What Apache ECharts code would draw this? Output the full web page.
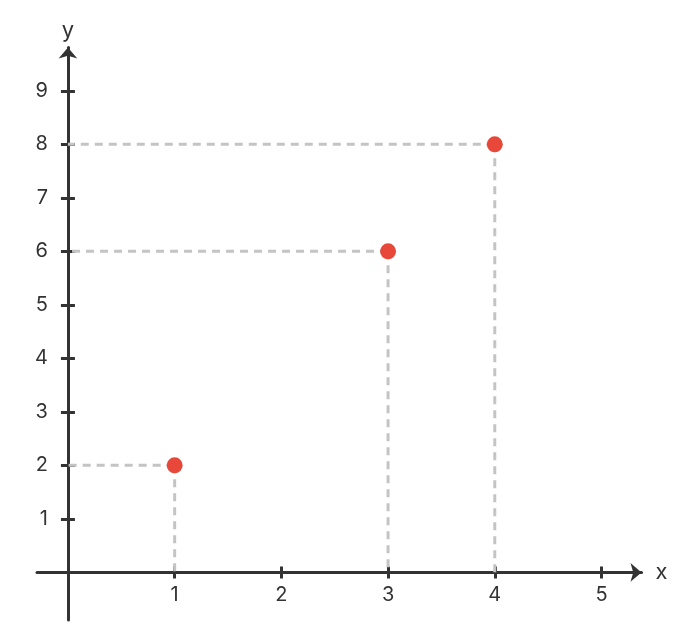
<!DOCTYPE html>
<html><head><meta charset="utf-8">
<script src="https://cdn.jsdelivr.net/npm/echarts@6/dist/echarts.min.js"></script>
<style>html,body{margin:0;padding:0;background:#fff}#c{width:690px;height:624px}</style>
</head><body><div id="c"></div>
<script>
const xTicks = [1, 2, 3, 4, 5];
const yTicks = [1, 2, 3, 4, 5, 6, 7, 8, 9];
const pointsX = [1, 3, 4];
const pointsY = [2, 6, 8];

const axisColor = '#333333';
const font = 'Inter, "Noto Sans", sans-serif';
const W = 690, H = 624;
const grid = { left: 37, right: 48.5, top: 47.5, bottom: 4, outerBoundsMode: 'none', containLabel: false };

const guideStyle = { color: '#c4c4c4', width: 3, type: [8, 6] };
const guideSeries = [];
pointsX.forEach((x, i) => {
  const y = pointsY[i];
  guideSeries.push({ type: 'line', data: [[x, y], [0, y]], symbol: 'none', lineStyle: guideStyle, silent: true, z: 1 });
  guideSeries.push({ type: 'line', data: [[x, y], [x, 0]], symbol: 'none', lineStyle: guideStyle, silent: true, z: 1 });
});

function buildOption(xOff, yOff) {
  const tickStyle = { color: axisColor, width: 3 };
  return {
    animation: false,
    grid: grid,
    xAxis: [{
      type: 'value', min: -0.29, max: 5.375, position: 'bottom', offset: xOff,
      axisLine: { onZero: false, lineStyle: { color: axisColor, width: 3 }, symbol: ['none', 'arrow'], symbolSize: [14, 11] },
      axisTick: { show: true, customValues: xTicks, length: 6, lineStyle: tickStyle },
      axisLabel: { customValues: xTicks, color: axisColor, fontSize: 20, fontFamily: font, margin: 13 },
      splitLine: { show: false },
      name: 'x', nameLocation: 'end', nameGap: 14,
      nameTextStyle: { color: axisColor, fontSize: 22, fontFamily: font, verticalAlign: 'middle' }
    }, {
      type: 'value', min: -0.29, max: 5.375, position: 'bottom', offset: xOff,
      axisLine: { show: false, onZero: false },
      axisTick: { show: true, inside: true, customValues: xTicks, length: 6, lineStyle: tickStyle },
      axisLabel: { show: false },
      splitLine: { show: false }
    }],
    yAxis: [{
      type: 'value', min: -0.89, max: 9.81, position: 'left', offset: yOff,
      axisLine: { onZero: false, lineStyle: { color: axisColor, width: 3 }, symbol: ['none', 'arrow'], symbolSize: [14, 11] },
      axisTick: { show: true, customValues: yTicks, length: 7, lineStyle: tickStyle },
      axisLabel: { customValues: yTicks, color: axisColor, fontSize: 20, fontFamily: font, margin: 20 },
      splitLine: { show: false },
      name: 'y', nameLocation: 'end', nameGap: 6,
      nameTextStyle: { color: axisColor, fontSize: 22, fontFamily: font, align: 'center' }
    }, {
      type: 'value', min: -0.89, max: 9.81, position: 'left', offset: yOff,
      axisLine: { show: false, onZero: false },
      axisTick: { show: true, inside: true, customValues: yTicks, length: 7, lineStyle: tickStyle },
      axisLabel: { show: false },
      splitLine: { show: false }
    }],
    series: guideSeries.concat([{
      type: 'scatter',
      data: pointsX.map((x, i) => [x, pointsY[i]]),
      symbolSize: 16,
      itemStyle: { color: '#e8483a', opacity: 1 },
      z: 5
    }])
  };
}

const chart = echarts.init(document.getElementById('c'));
chart.setOption(buildOption(0, 0));
// Place each axis line at the other axis's zero, using the library's own scales.
const origin = chart.convertToPixel({ gridIndex: 0 }, [0, 0]);
const xOff = origin[1] - (H - grid.bottom);
const yOff = grid.left - origin[0];
chart.setOption(buildOption(xOff, yOff), true);
</script></body></html>
